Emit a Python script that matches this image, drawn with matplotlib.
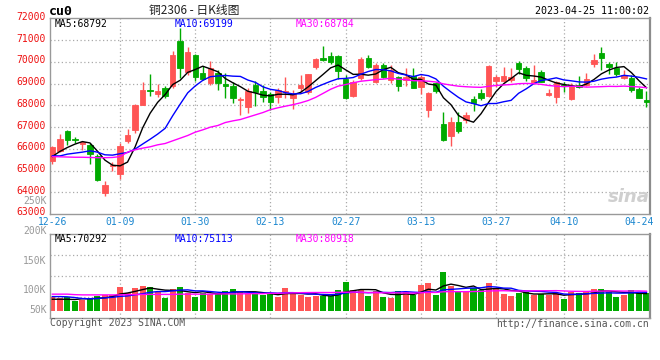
import numpy as np
import pandas as pd
import matplotlib
matplotlib.use("Agg")
import matplotlib.pyplot as plt
import matplotlib.transforms as mtransforms

# ---------------- data ----------------
dates = ["12-26", "12-27", "12-28", "12-29", "12-30",
         "01-03", "01-04", "01-05", "01-06",
         "01-09", "01-10", "01-11", "01-12", "01-13",
         "01-16", "01-17", "01-18", "01-19", "01-20",
         "01-30", "01-31", "02-01", "02-02", "02-03",
         "02-06", "02-07", "02-08", "02-09", "02-10",
         "02-13", "02-14", "02-15", "02-16", "02-17",
         "02-20", "02-21", "02-22", "02-23", "02-24",
         "02-27", "02-28", "03-01", "03-02", "03-03",
         "03-06", "03-07", "03-08", "03-09", "03-10",
         "03-13", "03-14", "03-15", "03-16", "03-17",
         "03-20", "03-21", "03-22", "03-23", "03-24",
         "03-27", "03-28", "03-29", "03-30", "03-31",
         "04-03", "04-04", "04-06", "04-07",
         "04-10", "04-11", "04-12", "04-13", "04-14",
         "04-17", "04-18", "04-19", "04-20", "04-21",
         "04-24", "04-25"]

opens = [65416, 65875, 66824, 66460, 66212, 66181, 65646, 63961, 65186, 64849,
         66365, 66870, 68018, 68692, 68539, 68784, 68891, 70958, 69549, 70315,
         69503, 69013, 69503, 68983, 68891, 68263, 67927, 68937, 68661, 68508,
         68401, 68600, 68325, 68815, 68600, 69779, 70177, 70269, 70269, 69197,
         68432, 69274, 70162, 69090, 69856, 69166, 69289, 69166, 69365, 68861,
         67788, 69013, 67130, 66610, 67222, 67329, 68278, 68569, 68432, 69120,
         69136, 69166, 69963, 69733, 69090, 69534, 68477, 68401, 68937, 68278,
         68937, 68937, 69886, 70391, 69901, 69702, 69274, 69243, 68753, 68248]
highs = [66105, 66686, 66870, 66564, 66365, 66258, 65768, 64497, 65370, 66288,
         66916, 68064, 69090, 69442, 68968, 68891, 70514, 71570, 70697, 70345,
         69810, 70039, 69626, 69473, 69090, 68401, 68784, 69136, 68937, 68631,
         68799, 69304, 68707, 69396, 69457, 70192, 70728, 70468, 70315, 69396,
         69151, 70238, 70315, 69932, 69932, 69856, 69350, 69702, 69702, 69396,
         68600, 69090, 67712, 67482, 67712, 67682, 68432, 68753, 69856, 69396,
         69779, 69733, 70039, 69825, 69856, 69626, 68753, 69120, 69090, 69013,
         69350, 69473, 70345, 70697, 70009, 69978, 69626, 69396, 68861, 68661]
lows = [65293, 65829, 66181, 66258, 65951, 65308, 64530, 63839, 64956, 64620,
        66288, 66717, 68018, 68447, 68401, 68325, 68784, 69274, 69396, 69136,
        69166, 68937, 68707, 68325, 68095, 67559, 67635, 67972, 68141, 67788,
        68126, 68355, 67819, 68600, 68539, 69656, 70055, 69917, 69212, 68294,
        68401, 69151, 69702, 69013, 69274, 69044, 68677, 68891, 68784, 68523,
        67482, 68554, 66365, 66150, 66748, 67176, 67743, 68248, 68401, 68861,
        69090, 69090, 69427, 69136, 69044, 69060, 68432, 68126, 68631, 68248,
        68784, 68891, 69779, 69610, 69427, 69350, 69197, 68631, 68325, 67942]
closes = [66074, 66441, 66411, 66420, 66304, 65768, 64543, 64344, 65262, 66150,
          66640, 68018, 68707, 68646, 68661, 68432, 70315, 69702, 70453, 69320,
          69197, 69702, 69044, 68891, 68340, 68309, 68646, 68631, 68401, 68171,
          68692, 68646, 68508, 68937, 69427, 70131, 70101, 70009, 69580, 68325,
          69090, 70147, 69779, 69856, 69320, 69626, 68907, 69320, 68815, 69289,
          68554, 68661, 66411, 67222, 66824, 67559, 68095, 68355, 69825, 69320,
          69350, 69304, 69672, 69243, 69166, 69090, 68585, 69060, 68876, 68907,
          68845, 69197, 70085, 70192, 69779, 69442, 69396, 68692, 68355, 68141]

volumes_k = [54.9, 50.8, 54.9, 41.2, 44.0, 53.6, 61.8, 64.5, 64.5, 98.8,
             74.1, 94.7, 101.5, 97.4, 75.5, 53.6, 89.2, 97.4, 74.1, 57.7,
             72.7, 68.6, 72.7, 81.0, 89.2, 78.2, 68.6, 71.4, 64.5, 68.6,
             54.9, 91.9, 74.1, 64.5, 57.7, 60.4, 60.4, 60.4, 85.1, 119.3,
             85.1, 85.1, 60.4, 81.0, 56.3, 52.2, 81.0, 76.9, 64.5, 105.6,
             113.8, 64.5, 160.4, 101.5, 76.9, 76.9, 91.9, 85.1, 113.8, 89.2,
             68.6, 60.4, 72.7, 76.9, 64.5, 68.6, 64.5, 72.7, 48.1, 76.9,
             72.7, 76.9, 89.2, 89.2, 76.9, 56.3, 64.5, 85.1, 74.1, 71.4]

# moving-average values at the left edge (history before the window)
ma5_head = [65645, 65875, 66059, 66212]
ma10_head = [65676, 65670, 65753, 65799, 65845, 65906, 65845, 65722, 65707]
ma30_head = [65640, 65630, 65620, 65610, 65610, 65600, 65590, 65590, 65600, 65640,
             65844, 65951, 66028, 66090, 66181, 66242, 66365, 66487, 66610, 66763,
             66870, 66993, 67069, 67207, 67283, 67345, 67452, 67559, 67666]
vma5_head = [47.0, 47.0, 47.0, 46.0]
vma10_head = [58.0, 58.0, 57.0, 54.0, 50.0, 49.0, 50.0, 53.0, 55.0]
vma30_head = [68.0, 68.0, 68.0, 66.0, 65.0, 65.0, 65.0, 65.0, 65.0, 65.0,
              66.0, 66.0, 67.0, 67.0, 67.0, 67.0, 67.0, 68.0, 68.0, 68.0,
              68.0, 68.0, 69.0, 69.0, 69.0, 69.0, 70.0, 70.0, 70.0]

tick_dates = ["12-26", "01-09", "01-30", "02-13", "02-27", "03-13", "03-27", "04-10", "04-24"]
grid_dates = ["01-09", "01-30", "02-13", "02-27", "03-13", "03-27", "04-10"]
price_ticks = list(range(63000, 72001, 1000))
vol_labels = ["250K", "200K", "150K", "100K", "50K"]

title_code = "cu0"
title_text = "铜2306 - 日K线图"
timestamp = "2023-04-25 11:00:02"
legend_price = ["MA5:68792", "MA10:69199", "MA30:68784"]
legend_vol = ["MA5:70292", "MA10:75113", "MA30:80918"]
copyright_text = "Copyright 2023 SINA.COM"
url_text = "http://finance.sina.com.cn"

# ---------------- derived series ----------------
def moving(values, n, head):
    s = pd.Series(values, dtype=float).rolling(n).mean().to_numpy()
    s[:len(head)] = head
    return s

ma5 = moving(closes, 5, ma5_head)
ma10 = moving(closes, 10, ma10_head)
ma30 = moving(closes, 30, ma30_head)
vol = np.array(volumes_k) * 1000
vma5 = moving(vol, 5, np.array(vma5_head) * 1000)
vma10 = moving(vol, 10, np.array(vma10_head) * 1000)
vma30 = moving(vol, 30, np.array(vma30_head) * 1000)

x = np.arange(len(dates))
o = np.array(opens, float); c = np.array(closes, float)
h = np.array(highs, float); l = np.array(lows, float)
up = c >= o
RED = "#ff5555"
GREEN = "#00aa00"
colors = np.where(up, RED, GREEN)

MONO = "DejaVu Sans Mono"
GRID = "#aaaaaa"
SPINE = "#999999"

W, H = 660, 360
fig = plt.figure(figsize=(W / 100, H / 100), dpi=100)
fig.patch.set_facecolor("white")

def rect(left, top, right, bottom):
    return [left / W, 1 - bottom / H, (right - left) / W, (bottom - top) / H]

axp = fig.add_axes(rect(50, 18.3, 649.5, 214))
axv = fig.add_axes(rect(50, 234.3, 649.5, 318))

xlim = (-0.31, 79.4)
for ax in (axp, axv):
    ax.set_xlim(*xlim)
    for sp in ax.spines.values():
        sp.set_color(SPINE)
        sp.set_linewidth(1.0)
    ax.spines["right"].set_linewidth(1.6)
    ax.spines["right"].set_color("#8c8c8c")
    ax.tick_params(length=0)

# ---------------- price panel ----------------
axp.set_ylim(63000, 72000)
for yv in price_ticks[1:-1]:
    axp.axhline(yv, color=GRID, lw=0.9, ls=(0, (1, 2)), zorder=0)
gx = [dates.index(d) for d in grid_dates]
for xv in gx:
    axp.axvline(xv, color=GRID, lw=0.9, ls=(0, (1, 2)), zorder=0)
    axv.axvline(xv, color=GRID, lw=0.9, ls=(0, (1, 2)), zorder=0)

axp.vlines(x, l, h, colors=colors, lw=1.0, zorder=2)
axp.bar(x, np.abs(c - o), bottom=np.minimum(o, c), width=0.72, color=colors,
        edgecolor=colors, linewidth=0.6, zorder=3)
axp.plot(x, ma5, color="black", lw=1.0, zorder=4)
axp.plot(x, ma10, color="#0000ff", lw=1.0, zorder=4)
axp.plot(x, ma30, color="#ff00ff", lw=1.0, zorder=4)

axp.set_yticks(price_ticks)
axp.set_yticklabels([str(v) for v in price_ticks], color="#ee1111",
                    fontsize=7, family=MONO)
axp.tick_params(axis="y", pad=3)
shift = mtransforms.ScaledTranslation(0, 2.5 / 100, fig.dpi_scale_trans)
for lab in axp.get_yticklabels():
    lab.set_transform(lab.get_transform() + shift)

tx = [dates.index(d) for d in tick_dates]
axp.set_xticks(tx)
axp.set_xticklabels(tick_dates, color="#1a86cf", fontsize=7, family=MONO)
axp.tick_params(axis="x", pad=2)

lx = [5 / 599, 125 / 599, 245 / 599]
lc = ["black", "#0000ff", "#ff00ff"]
for xx, t, col in zip(lx, legend_price, lc):
    axp.text(xx, 1 - 5.7 / 195.7, t, transform=axp.transAxes, color=col,
             fontsize=7, family=MONO, va="center", ha="left", zorder=6)

# sina watermark
axp.text(0.965, 0.085, "sina", transform=axp.transAxes, color="#cfcfcf",
         fontsize=13, fontstyle="italic", fontweight="bold", ha="center",
         va="center", zorder=1)

# ---------------- volume panel ----------------
vtop = (310.7 - 234.3) * 4110
vbot = -(318 - 310.7) * 4110
axv.set_ylim(vbot, vtop)
for frac in (0.25, 0.5, 0.75):
    axv.axhline(vbot + frac * (vtop - vbot), color=GRID, lw=0.9,
                ls=(0, (1, 2)), zorder=0)
axv.bar(x, vol, width=0.8, color=colors, zorder=2)
axv.plot(x, vma5, color="black", lw=1.0, zorder=4)
axv.plot(x, vma10, color="#0000ff", lw=1.0, zorder=4)
axv.plot(x, vma30, color="#ff00ff", lw=1.0, zorder=4)
axv.set_yticks([])
axv.set_xticks([])
for xx, t, col in zip(lx, legend_vol, lc):
    axv.text(xx, 1 - 4.3 / 83.7, t, transform=axv.transAxes, color=col,
             fontsize=7, family=MONO, va="center", ha="left", zorder=6)

vol_label_y = [200.7, 230.7, 261, 290, 310]
for t, yy in zip(vol_labels, vol_label_y):
    fig.text(46.5 / W, 1 - yy / H, t, color="#999999", fontsize=7, family=MONO,
             ha="right", va="center")

# ---------------- header / footer ----------------
fig.text(49 / W, 1 - 11.5 / H, title_code, fontsize=9.5, fontweight="bold",
         family=MONO, ha="left", va="center", color="black")
fig.text(194 / W, 1 - 10.5 / H, title_text, fontsize=8.5,
         family=["Noto Sans CJK SC", "DejaVu Sans"], ha="center", va="center",
         color="#222222")
fig.text(649 / W, 1 - 11.5 / H, timestamp, fontsize=7.2, family=MONO,
         ha="right", va="center", color="black")
fig.text(50 / W, 1 - 323 / H, copyright_text, fontsize=7, family=MONO,
         ha="left", va="center", color="#555555")
fig.text(649 / W, 1 - 324 / H, url_text, fontsize=7, family=MONO,
         ha="right", va="center", color="#555555")

fig.savefig("out.png", dpi=100, facecolor="white")
